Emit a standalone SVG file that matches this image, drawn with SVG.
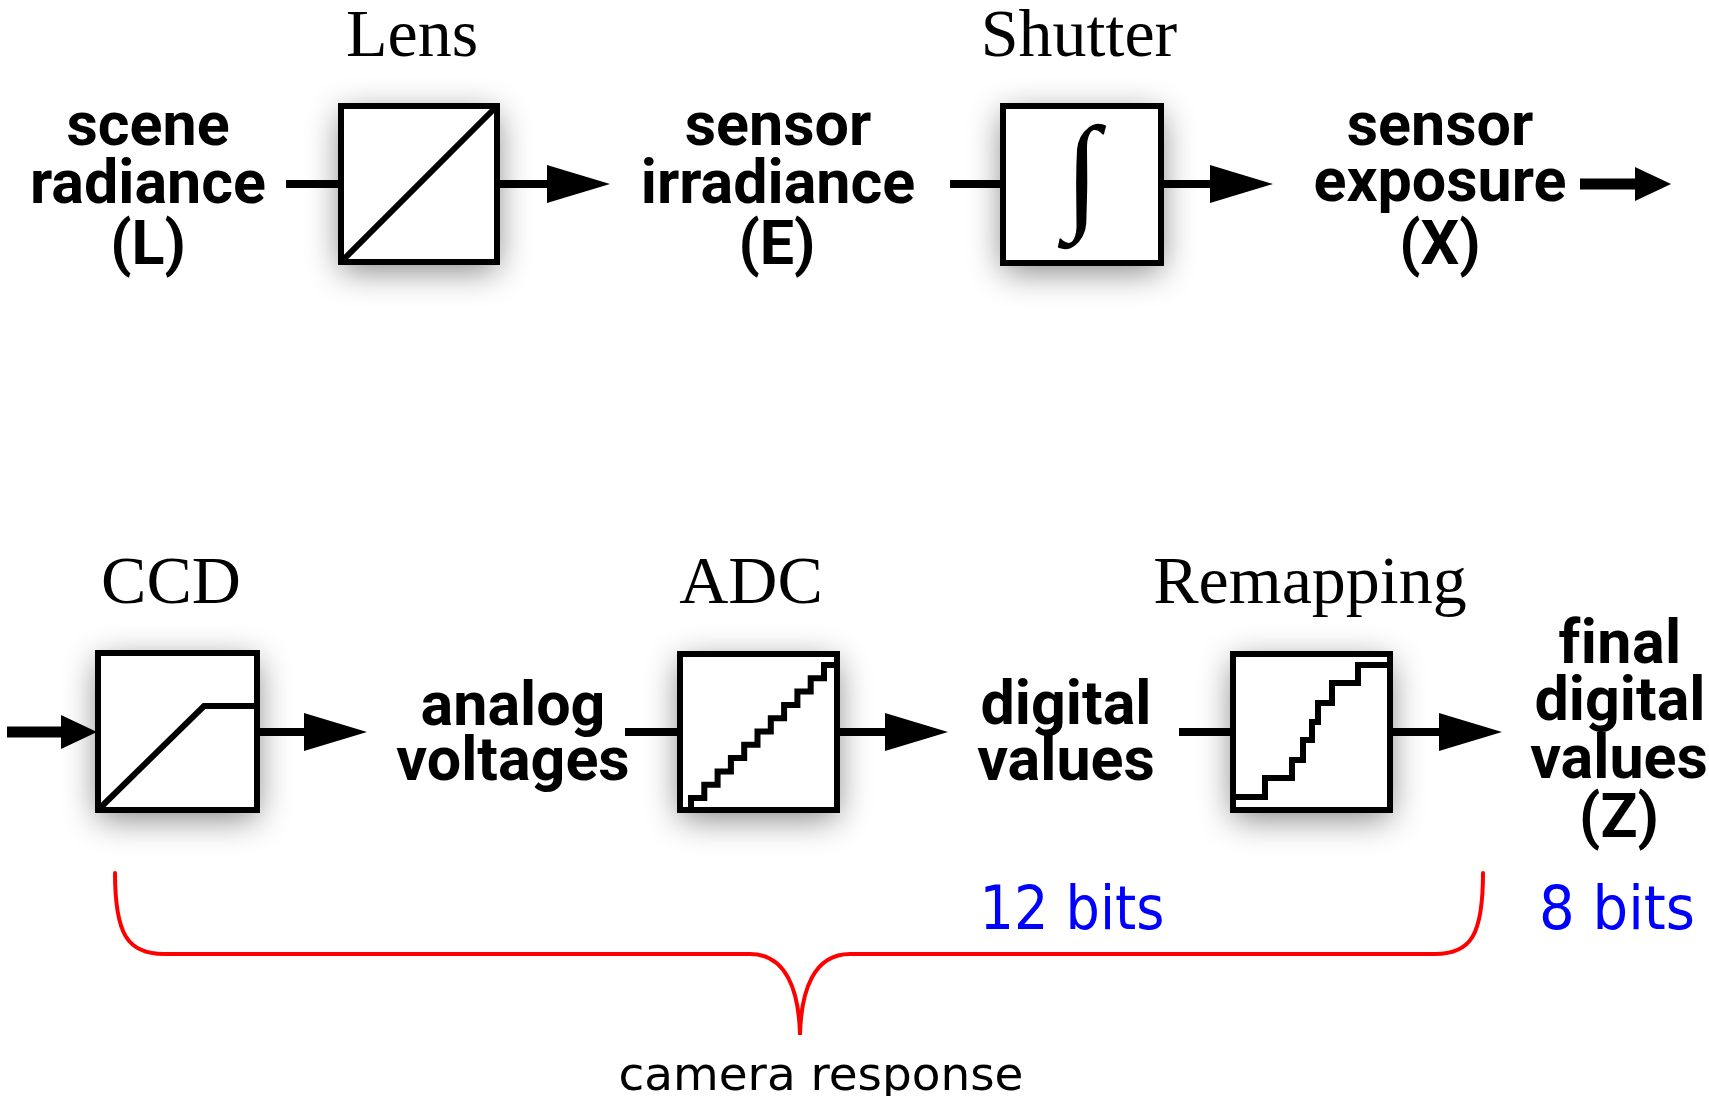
<svg xmlns="http://www.w3.org/2000/svg" width="1709" height="1096" viewBox="0 0 1709 1096">
<style>
.box{fill:#fff;stroke:#000;stroke-width:6;stroke-linejoin:miter}
.shadow{fill:#fff;filter:url(#sh)}
.curve{fill:none;stroke:#000;stroke-width:6;stroke-linejoin:miter}
.wire{stroke:#000;stroke-width:8;fill:none}
.thick{stroke:#000;stroke-width:11;fill:none}
.var{font-family:Roboto,"Liberation Sans",Arial,sans-serif;font-weight:bold;font-size:61px;text-anchor:middle;fill:#000;font-variant-ligatures:none;font-feature-settings:"liga" 0,"clig" 0}
.nolig{letter-spacing:0.4px}
.name{font-family:"Liberation Serif","Times New Roman",serif;font-size:68px;text-anchor:middle;fill:#000}
.bits{font-family:"DejaVu Sans Condensed","DejaVu Sans",sans-serif;font-stretch:condensed;font-size:60px;fill:#0000ff;text-anchor:middle}
.resp{font-family:"DejaVu Sans Condensed","DejaVu Sans",sans-serif;font-stretch:condensed;font-size:47px;fill:#000;text-anchor:middle}
.brace{fill:none;stroke:#ff0000;stroke-width:4;stroke-linecap:round}
</style>
<defs>
<filter id="sh" x="-60%" y="-60%" width="220%" height="230%">
<feGaussianBlur in="SourceAlpha" stdDeviation="17"/>
<feOffset dx="0" dy="8" result="b"/>
<feComponentTransfer><feFuncA type="linear" slope="0.5"/></feComponentTransfer>
</filter>
<marker id="head" markerUnits="userSpaceOnUse" markerWidth="64" markerHeight="40" refX="0" refY="19" orient="auto" overflow="visible">
<path d="M0,0 L63,19 L0,38 Z" fill="#000"/>
</marker>
<marker id="headS" markerUnits="userSpaceOnUse" markerWidth="38" markerHeight="36" refX="0" refY="17" orient="auto" overflow="visible">
<path d="M0,0 L36,17 L0,34 Z" fill="#000"/>
</marker>
</defs>
<rect width="1709" height="1096" fill="#fff"/>

<g id="connectors">
<line class="wire" x1="286" y1="184" x2="341" y2="184"/>
<line class="wire" x1="497" y1="184" x2="547" y2="184" marker-end="url(#head)"/>
<line class="wire" x1="950" y1="184" x2="1003" y2="184"/>
<line class="wire" x1="1161" y1="184" x2="1210" y2="184" marker-end="url(#head)"/>
<line class="thick" x1="1580" y1="184" x2="1635" y2="184" marker-end="url(#headS)"/>
<line class="thick" x1="7" y1="732" x2="61" y2="732" marker-end="url(#headS)"/>
<line class="wire" x1="257" y1="732" x2="304" y2="732" marker-end="url(#head)"/>
<line class="wire" x1="625" y1="732" x2="680" y2="732"/>
<line class="wire" x1="837" y1="732" x2="885" y2="732" marker-end="url(#head)"/>
<line class="wire" x1="1179" y1="732" x2="1233" y2="732"/>
<line class="wire" x1="1390" y1="732" x2="1439" y2="732" marker-end="url(#head)"/>
</g>

<g id="scene-radiance">
<text class="var"><tspan x="148" y="145">scene</tspan><tspan x="148" y="203">radiance</tspan><tspan x="148" y="264">(L)</tspan></text>
</g>

<g id="lens">
<rect class="shadow" x="341" y="106" width="156" height="156"/>
<rect class="box" x="341" y="106" width="156" height="156"/>
<line class="curve" x1="341" y1="262" x2="497" y2="106"/>
<text class="name" x="412" y="56">Lens</text>
</g>

<g id="sensor-irradiance">
<text class="var"><tspan x="778" y="145">sensor</tspan><tspan x="778" y="203">irradiance</tspan><tspan x="777" y="264">(E)</tspan></text>
</g>

<g id="shutter">
<rect class="shadow" x="1003" y="106" width="158" height="157"/>
<rect class="box" x="1003" y="106" width="158" height="157"/>
<text x="1082" y="215" font-family="'Liberation Serif','DejaVu Serif',serif" font-size="128" text-anchor="middle" fill="#000">∫</text>
<text class="name" x="1079" y="56">Shutter</text>
</g>

<g id="sensor-exposure">
<text class="var"><tspan x="1440" y="145">sensor</tspan><tspan x="1440" y="201">exposure</tspan><tspan x="1440" y="264">(X)</tspan></text>
</g>

<g id="ccd">
<rect class="shadow" x="98" y="653" width="159" height="157"/>
<rect class="box" x="98" y="653" width="159" height="157"/>
<polyline class="curve" points="98,810 204,706 257,706"/>
<text class="name" x="171" y="603">CCD</text>
</g>

<g id="analog-voltages">
<text class="var"><tspan x="513" y="725">analog</tspan><tspan x="513" y="780">voltages</tspan></text>
</g>

<g id="adc">
<rect class="shadow" x="680" y="654" width="157" height="156"/>
<rect class="box" x="680" y="654" width="157" height="156"/>
<path class="curve" d="M691,810 V798 h13.3 v-13.3 h13.3 v-13.3 h13.3 v-13.3 h13.3 v-13.3 h13.3 v-13.3 h13.3 v-13.3 h13.3 v-13.3 h13.3 v-13.3 h13.3 v-13.3 h13.3 v-13.3 h13 v-13"/>
<text class="name" x="751" y="603">ADC</text>
</g>

<g id="digital-values">
<text class="var"><tspan x="1066" y="724">digital</tspan><tspan x="1066" y="780">values</tspan></text>
</g>

<g id="remapping">
<rect class="shadow" x="1233" y="654" width="157" height="156"/>
<rect class="box" x="1233" y="654" width="157" height="156"/>
<path class="curve" d="M1233,797 H1265 V778 H1292 V760 H1303 V740 H1312 V722 H1318 V703 H1332 V683 H1358 V665 H1390"/>
<text class="name" x="1310" y="603">Remapping</text>
</g>

<g id="final-digital-values">
<text class="var"><tspan class="nolig" x="1620" y="663">final</tspan><tspan x="1620" y="720">digital</tspan><tspan x="1619" y="778">values</tspan><tspan x="1619" y="837">(Z)</tspan></text>
</g>

<g id="bits-labels">
<text class="bits" x="1072" y="929" textLength="185" lengthAdjust="spacingAndGlyphs">12 bits</text>
<text class="bits" x="1617" y="929" textLength="156" lengthAdjust="spacingAndGlyphs">8 bits</text>
</g>

<g id="camera-response">
<path class="brace" d="M115,873 C115,935 128,954 164,954 H750 C786,954 799,990 800,1035 C801,990 814,954 850,954 H1435 C1471,954 1483,935 1483,873"/>
<text class="resp" x="821" y="1090" textLength="405" lengthAdjust="spacingAndGlyphs">camera response</text>
</g>
</svg>
